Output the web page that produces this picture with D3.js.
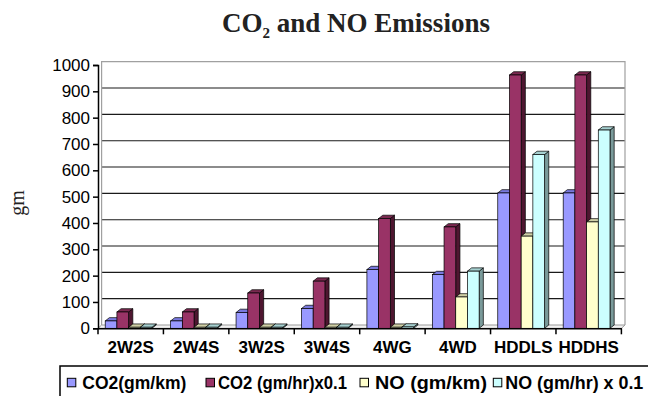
<!DOCTYPE html>
<html>
<head>
<meta charset="utf-8">
<script src="https://cdn.jsdelivr.net/npm/d3@7"></script>
<style>
  html, body { margin: 0; padding: 0; background: #fff; }
  svg { display: block; }
</style>
</head>
<body>
<svg id="chart" width="648" height="396"></svg>
<script>
// Vehicle categories and emission series
const categories = ["2W2S", "2W4S", "3W2S", "3W4S", "4WG", "4WD", "HDDLS", "HDDHS"];
const co2Km      = [28, 28, 60, 75, 223, 204, 514, 514];
const co2HrTenth = [62, 62, 134, 179, 417, 385, 962, 962];
const noKm       = [4, 4, 4, 4, 4, 119, 350, 404];
const noHrTenth  = [4, 4, 4, 4, 5, 217, 660, 753];
const seriesNames = ["CO2(gm/km)", "CO2 (gm/hr)x0.1", "NO (gm/km)", "NO (gm/hr) x 0.1"];
const yTicks = [0, 100, 200, 300, 400, 500, 600, 700, 800, 900, 1000];

const seriesValues = [co2Km, co2HrTenth, noKm, noHrTenth];
const frontColors = ["#9999FF", "#993366", "#FFFFCC", "#CCFFFF"];
const topColors   = ["#7878dd", "#7a2950", "#cfcfa6", "#a6d0d0"];
const sideColors  = ["#5c5c9e", "#4e1630", "#a0a07c", "#7a9a9a"];

const svg = d3.select("#chart");

// Plot frame
const plotLeft = 98, plotRight = 621.4, plotTop = 65, plotBottom = 328.3;
const wallDx = 3.6, wallDy = 3.3;   // depth of the back wall
const barDx = 4.2, barDy = 3.3;     // depth of each column
const barW = 11.7;

const x = d3.scaleBand().domain(categories).range([plotLeft, plotRight]).padding(0);
const pad = (x.bandwidth() - 4 * barW - barDx) / 2;
const xs = d3.scaleBand().domain(d3.range(4)).range([pad, pad + 4 * barW]).padding(0);
const y = d3.scaleLinear().domain([0, 1000]).range([plotBottom, plotTop]);

// Floor
svg.append("polygon")
  .attr("points", [[plotLeft, plotBottom], [plotRight, plotBottom], [plotRight + wallDx, plotBottom - wallDy], [plotLeft + wallDx, plotBottom - wallDy]].join(" "))
  .attr("fill", "#f2f2f2").attr("stroke", "#9a9a9a").attr("stroke-width", 1);

// Back wall gridlines
svg.append("g").selectAll("line")
  .data(yTicks.filter(v => v > 0 && v < 1000))
  .join("line")
  .attr("x1", plotLeft + wallDx).attr("x2", plotRight + wallDx)
  .attr("y1", d => y(d) - wallDy).attr("y2", d => y(d) - wallDy)
  .attr("stroke", "#1a1a1a").attr("stroke-width", 1.1);

// Wall border
svg.append("path")
  .attr("d", `M${plotLeft + wallDx},${plotBottom - wallDy} V${y(1000) - wallDy} H${plotRight + wallDx} V${plotBottom - wallDy}`)
  .attr("fill", "none").attr("stroke", "#a0a0a0").attr("stroke-width", 1.2);

// Columns
const groups = svg.append("g").selectAll("g")
  .data(categories)
  .join("g")
  .attr("transform", d => `translate(${x(d)},0)`);

groups.each(function (cat, ci) {
  const g = d3.select(this);
  seriesValues.forEach((vals, si) => {
    const v = vals[ci];
    const x0 = xs(si), x1 = x0 + barW;
    const yt = y(v), yb = y(0);
    // side face
    g.append("polygon")
      .attr("points", [[x1, yt], [x1 + barDx, yt - barDy], [x1 + barDx, yb - barDy], [x1, yb]].join(" "))
      .attr("fill", sideColors[si]).attr("stroke", "#000").attr("stroke-width", 0.7);
    // top face
    g.append("polygon")
      .attr("points", [[x0, yt], [x0 + barDx, yt - barDy], [x1 + barDx, yt - barDy], [x1, yt]].join(" "))
      .attr("fill", topColors[si]).attr("stroke", "#000").attr("stroke-width", 0.7);
    // front face
    g.append("rect")
      .attr("x", x0).attr("y", yt)
      .attr("width", barW).attr("height", Math.max(0, yb - yt))
      .attr("fill", frontColors[si]).attr("stroke", "#000").attr("stroke-width", 0.7);
  });
});

// Y axis
const yAxis = svg.append("g")
  .attr("transform", `translate(${plotLeft},0)`)
  .call(d3.axisLeft(y).tickValues(yTicks).tickSize(5).tickPadding(3).tickFormat(d3.format("d")));
yAxis.select(".domain").attr("stroke", "#000").attr("stroke-width", 1.5);
yAxis.selectAll(".tick line").attr("stroke", "#000").attr("stroke-width", 1.5);
yAxis.selectAll("text")
  .attr("font-family", "Liberation Sans, Arial, sans-serif")
  .attr("font-size", 17).attr("fill", "#000");

// X axis
const xAxis = svg.append("g")
  .attr("transform", `translate(0,${plotBottom})`)
  .call(d3.axisBottom(x).tickSize(0).tickPadding(12.6));
xAxis.select(".domain").attr("stroke", "#000").attr("stroke-width", 1.5);
xAxis.selectAll("text")
  .attr("font-family", "Liberation Sans, Arial, sans-serif")
  .attr("font-size", 17).attr("font-weight", "bold").attr("fill", "#000");
// category boundary ticks
xAxis.append("g").selectAll("line")
  .data(categories.map(c => x(c)).concat([plotRight]))
  .join("line")
  .attr("x1", d => d).attr("x2", d => d)
  .attr("y1", 0).attr("y2", 6)
  .attr("stroke", "#000").attr("stroke-width", 1.5);

// Title
const title = svg.append("text")
  .attr("x", 356).attr("y", 31.5)
  .attr("text-anchor", "middle")
  .attr("font-family", "Liberation Serif, Times New Roman, serif")
  .attr("font-weight", "bold").attr("font-size", 27).attr("fill", "#222");
title.append("tspan").text("CO");
title.append("tspan").attr("font-size", 15).attr("dy", 6).text("2");
title.append("tspan").attr("dy", -6).text(" and NO Emissions");

// Y axis title
svg.append("text")
  .attr("transform", "translate(24,203) rotate(-90)")
  .attr("text-anchor", "middle")
  .attr("font-family", "Liberation Serif, Times New Roman, serif")
  .attr("font-size", 20).attr("fill", "#222")
  .text("gm");

// Legend
svg.append("rect")
  .attr("x", 60).attr("y", 366).attr("width", 620).attr("height", 60)
  .attr("fill", "#fff").attr("stroke", "#000").attr("stroke-width", 1.5);

const legendX = [67.3, 206, 360, 493.3];
const legendTextW = [104, 129, 112, 138];
const legend = svg.append("g").selectAll("g")
  .data(seriesNames)
  .join("g")
  .attr("transform", (d, i) => `translate(${legendX[i]},0)`);
legend.append("rect")
  .attr("x", 0).attr("y", 378.3).attr("width", 8.5).attr("height", 8.5)
  .attr("fill", (d, i) => frontColors[i]).attr("stroke", "#000").attr("stroke-width", 1);
legend.append("text")
  .attr("x", (d, i) => i % 2 === 0 ? 15 : 12)
  .attr("y", 389.3)
  .attr("font-family", "Liberation Sans, Arial, sans-serif")
  .attr("font-size", 17.5).attr("font-weight", "bold").attr("fill", "#000")
  .attr("textLength", (d, i) => legendTextW[i])
  .attr("lengthAdjust", "spacingAndGlyphs")
  .text(d => d);
</script>
</body>
</html>
